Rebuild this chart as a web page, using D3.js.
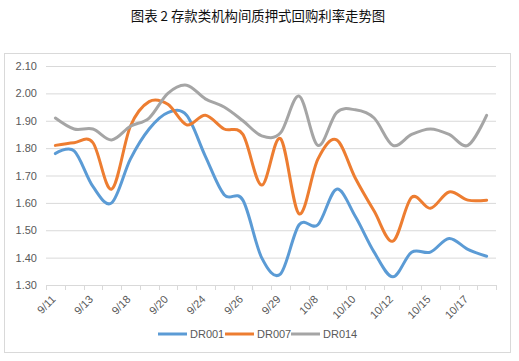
<!DOCTYPE html>
<html>
<head>
<meta charset="utf-8">
<script src="https://cdn.jsdelivr.net/npm/d3@7"></script>
<style>
    body { margin: 0; background: #fff; }
    svg { display: block; font-family: "Noto Sans CJK SC", "Noto Sans", sans-serif; }
</style>
</head>
<body>
<svg id="chart" width="519" height="361"></svg>
<script>
const dates = ['9/11', '9/12', '9/13', '9/17', '9/18', '9/19', '9/20', '9/21', '9/24', '9/25', '9/26', '9/27',
    '9/29', '9/30', '10/8', '10/9', '10/10', '10/11', '10/12', '10/14', '10/15', '10/16', '10/17', '10/18'];
const dr001 = [1.78, 1.79, 1.66, 1.60, 1.76, 1.87, 1.93, 1.92, 1.77, 1.63, 1.61, 1.40,
    1.34, 1.52, 1.52, 1.65, 1.55, 1.42, 1.33, 1.42, 1.42, 1.47, 1.43, 1.405];
const dr007 = [1.81, 1.82, 1.82, 1.65, 1.88, 1.97, 1.96, 1.885, 1.92, 1.87, 1.85, 1.665,
    1.835, 1.56, 1.76, 1.83, 1.69, 1.57, 1.46, 1.62, 1.58, 1.64, 1.61, 1.61];
const dr014 = [1.91, 1.87, 1.87, 1.83, 1.88, 1.91, 2.00, 2.03, 1.98, 1.95, 1.90, 1.845,
    1.855, 1.99, 1.81, 1.93, 1.94, 1.91, 1.81, 1.85, 1.87, 1.85, 1.81, 1.92];
const yTicks = [1.30, 1.40, 1.50, 1.60, 1.70, 1.80, 1.90, 2.00, 2.10];

const seriesList = [
    { name: 'DR001', values: dr001, color: '#5b9bd5' },
    { name: 'DR007', values: dr007, color: '#ed7d31' },
    { name: 'DR014', values: dr014, color: '#a5a5a5' },
];

const svg = d3.select('#chart');
const plotLeft = 46, plotRight = 496, plotTop = 66, plotBottom = 285;

// frame + title
svg.append('rect')
    .attr('x', 4.5).attr('y', 53.5).attr('width', 506).attr('height', 299)
    .attr('fill', 'none').attr('stroke', '#d9d9d9');
svg.append('text')
    .attr('x', 258).attr('y', 21)
    .attr('text-anchor', 'middle')
    .attr('font-size', 13.4).attr('fill', '#111')
    .text('图表 2 存款类机构间质押式回购利率走势图');

let x = d3.scaleBand().domain(dates).range([plotLeft, plotRight]);
let y = d3.scaleLinear().domain([1.30, 2.10]).range([plotBottom, plotTop]);

// gridlines + y labels
let yAxis = svg.append('g')
    .attr('transform', `translate(${plotLeft},0)`)
    .call(d3.axisLeft(y).tickValues(yTicks).tickFormat(d3.format('.2f')).tickSize(-(plotRight - plotLeft)).tickPadding(9));
yAxis.select('.domain').remove();
yAxis.selectAll('line').attr('stroke', '#d9d9d9');
yAxis.selectAll('text')
    .attr('font-family', '"Liberation Sans", "DejaVu Sans", sans-serif')
    .attr('font-size', 11).attr('fill', '#595959');

// x axis: ticks between categories, label every 2nd
let tickPos = d3.range(dates.length + 1).map(i => plotLeft + i * x.bandwidth());
let xg = svg.append('g');
xg.append('line')
    .attr('x1', plotLeft).attr('x2', plotRight).attr('y1', plotBottom + 0.5).attr('y2', plotBottom + 0.5)
    .attr('stroke', '#d9d9d9');
xg.selectAll('.tick')
    .data(tickPos)
    .join('line')
    .attr('x1', d => Math.round(d) + 0.5).attr('x2', d => Math.round(d) + 0.5)
    .attr('y1', plotBottom).attr('y2', plotBottom + 5)
    .attr('stroke', '#d9d9d9');
xg.selectAll('text')
    .data(dates.filter((d, i) => i % 2 == 0))
    .join('text')
    .attr('transform', d => `translate(${x(d) + x.bandwidth() / 2 + 1},${plotBottom + 15}) rotate(-45)`)
    .attr('text-anchor', 'end')
    .attr('font-family', '"Liberation Sans", "DejaVu Sans", sans-serif')
    .attr('font-size', 11).attr('fill', '#595959')
    .text(d => d);

// lines
let line = d3.line()
    .x((d, i) => x(dates[i]) + x.bandwidth() / 2)
    .y(d => y(d))
    .curve(d3.curveCardinal.tension(0));

svg.append('g').selectAll('path')
    .data(seriesList)
    .join('path')
    .attr('d', s => line(s.values))
    .attr('fill', 'none')
    .attr('stroke', s => s.color)
    .attr('stroke-width', 3)
    .attr('stroke-linejoin', 'round')
    .attr('stroke-linecap', 'round');

// legend
let legendX = [158, 225, 291];
let legend = svg.append('g').selectAll('g')
    .data(seriesList)
    .join('g')
    .attr('transform', (s, i) => `translate(${legendX[i]},334)`);
legend.append('line')
    .attr('x1', 0).attr('x2', 29)
    .attr('stroke', s => s.color).attr('stroke-width', 3);
legend.append('text')
    .attr('x', 32).attr('dy', '0.36em')
    .attr('font-family', '"Liberation Sans", "DejaVu Sans", sans-serif')
    .attr('font-size', 11).attr('fill', '#595959')
    .text(s => s.name);
</script>
</body>
</html>
